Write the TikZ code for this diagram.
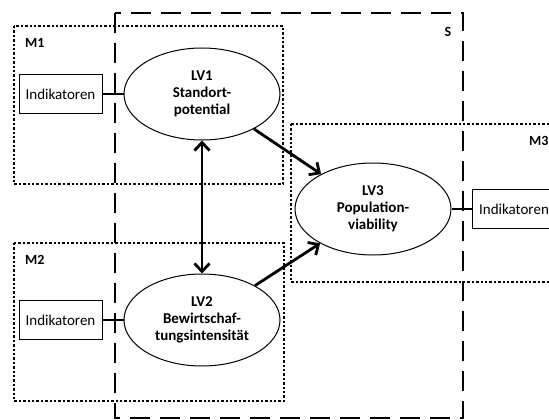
\documentclass[tikz,border=0pt]{standalone}
\usepackage{fontspec}
\setmainfont{Carlito}
\usetikzlibrary{shapes.geometric,arrows.meta}
\begin{document}
\begin{tikzpicture}[x=1pt,y=-1pt,
  lv/.style={ellipse,draw,line width=1pt,minimum width=156pt,minimum height=92pt,inner sep=0pt,align=center,font=\fontsize{15}{17}\selectfont\bfseries},
  ind/.style={draw,line width=1pt,minimum width=83pt,minimum height=39pt,inner sep=0pt,font=\fontsize{15}{17}\selectfont},
  mbox/.style={line width=2.4pt,dash pattern=on 2.4pt off 2pt},
  sbox/.style={line width=2.8pt,dash pattern=on 20pt off 10pt},
  lbl/.style={font=\fontsize{14}{16}\selectfont\bfseries,inner sep=0pt},
  link/.style={line width=1.5pt},
  rel/.style={line width=2.8pt,-{Straight Barb[length=8pt,width=15pt]}},
  birel/.style={line width=2.8pt,{Straight Barb[length=8pt,width=15pt]}-{Straight Barb[length=8pt,width=15pt]}}
]
\useasboundingbox (0,0) rectangle (549,420);
% frames
\draw[mbox] (14,26) rectangle (283,184);
\draw[mbox] (14,243) rectangle (284,401);
\draw[mbox] (291,124) rectangle (570,282);
\draw[sbox] (115,13) rectangle (463,418);
% labels
\node[lbl,anchor=west] (m1) at (25,43) {M1};
\node[lbl,anchor=west] (m2) at (25,260) {M2};
\node[lbl,anchor=west] (m3) at (529,141) {M3};
\node[lbl] (s) at (448,32) {S};
% latent variables
\node[lv] (lv1) at (202,94) {LV1\\Standort-\\potential};
\node[lv] (lv2) at (202,320) {LV2\\Bewirtschaf-\\tungsintensität};
\node[lv] (lv3) at (373,209) {LV3\\Population-\\viability};
% indicators
\node[ind] (ind1) at (60.5,94) {Indikatoren};
\node[ind] (ind2) at (60.5,320) {Indikatoren};
\node[ind,anchor=west] (ind3) at (472,209) {Indikatoren};
% links
\draw[link] (ind1) -- (lv1);
\draw[link] (ind2) -- (lv2);
\draw[link] (lv3) -- (ind3);
\draw[birel] (lv1) -- (lv2);
\draw[rel] (lv1) -- (lv3);
\draw[rel] (lv2) -- (lv3);
\end{tikzpicture}
\end{document}
